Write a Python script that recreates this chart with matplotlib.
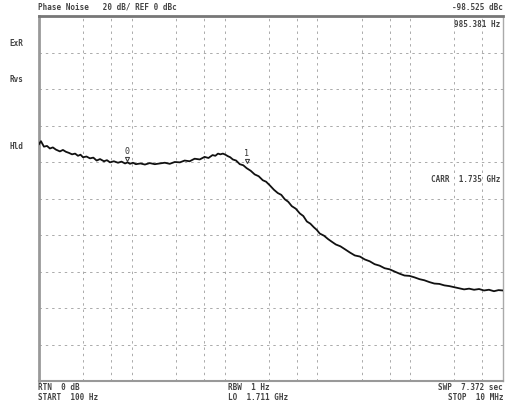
import matplotlib
matplotlib.use("Agg")
import matplotlib.pyplot as plt

# trace: offset frequency (Hz) and level (dBc)
freq_hz = [100, 105, 113, 122, 131, 141, 152, 168, 181, 195, 210, 227, 245, 263,
           280, 298, 325, 354, 385, 418, 455, 501, 540, 582, 640, 710, 775, 846,
           900, 956, 1030, 1106, 1240, 1384, 1560, 1772, 2000, 2268, 2560, 2903,
           3300, 3716, 4200, 4756, 5400, 6088, 6700, 7418, 7950, 8483, 9000, 9590,
           10200, 10840, 11500, 12250, 13300, 14580, 15900, 17300, 19100, 21100,
           23300, 25800, 28000, 30700, 34000, 37400, 40800, 44500, 48500, 53000,
           58500, 64700, 70500, 77000, 84000, 91700, 98500, 106000, 118000, 130000,
           144000, 158000, 177000, 198000, 224000, 253000, 287000, 324000, 366000,
           414000, 468000, 530000, 600000, 678000, 768000, 868000, 982000, 1110000,
           1260000, 1420000, 1610000, 1820000, 2060000, 2330000, 2640000, 2980000,
           3370000, 3810000, 4310000, 4880000, 5520000, 6240000, 7060000, 7990000,
           8950000, 10000000]
level_dbc = [-35.1, -34.3, -35.8, -35.6, -36.3, -36.0, -36.6, -37.1, -36.7, -37.2, -37.5, -37.9, -37.7, -38.3,
             -38.0, -38.7, -38.5, -39.0, -38.8, -39.6, -39.2, -39.8, -39.5, -40.1, -39.8, -40.2, -39.9, -40.4,
             -40.1, -40.5, -40.2, -40.6, -40.4, -40.7, -40.3, -40.6, -40.4, -40.2, -40.5, -40.0,
             -40.1, -39.6, -39.8, -39.1, -39.3, -38.6, -38.9, -38.1, -38.3, -37.7, -37.9, -37.7,
             -38.0, -38.4, -38.7, -39.3, -39.6, -40.6, -40.9, -41.7, -42.4, -43.4,
             -43.9, -45.0, -45.4, -46.4, -47.6, -48.5, -49.0, -50.2, -50.9, -52.1,
             -52.8, -54.1, -54.8, -56.3, -56.9, -57.9, -58.6, -59.6, -60.2, -61.1,
             -61.9, -62.6, -63.1, -63.9, -64.8, -65.6, -65.9, -66.7, -67.2,
             -68.0, -68.4, -69.1, -69.4, -70.0, -70.6, -71.1, -71.2, -71.6,
             -72.1, -72.4, -72.9, -73.3, -73.4, -73.8, -74.0, -74.3,
             -74.6, -74.9, -74.7, -75.0, -74.8, -75.2, -75.0, -75.4,
             -75.1, -75.2]

# vertical graticule lines on the analyzer screen
grid_freqs = [300, 600, 1e3, 3e3, 6e3, 1e4, 3e4, 6e4, 1e5, 3e5, 6e5, 1e6, 3e6, 6e6]
grid_levels = [-10, -20, -30, -40, -50, -60, -70, -80, -90]

# marker positions
marker_freqs = [880, 17400]
marker_levels = [-40.3, -41.0]
marker_names = ["0", "1"]

fig = plt.figure(figsize=(5.05, 4.06), dpi=100)
ax = fig.add_axes([39 / 505, 24 / 406, 464 / 505, 365 / 406])

ax.set_xscale("log")
ax.set_xlim(100, 1e7)
ax.set_ylim(-100, 0)

for f in grid_freqs:
    ax.axvline(f, color="#aaaaaa", lw=0.7, ls=(0, (2.5, 4)), zorder=1)
for lv in grid_levels:
    ax.axhline(lv, color="#aaaaaa", lw=0.7, ls=(0, (2.5, 4)), zorder=1)

ax.plot(freq_hz, level_dbc, color="#111111", lw=1.3, zorder=3)

for f, lv, name in zip(marker_freqs, marker_levels, marker_names):
    ax.annotate(name, (f, lv), xytext=(0, 6), textcoords="offset points",
                ha="center", va="bottom", fontsize=6, family="DejaVu Sans Mono",
                color="#333333", zorder=4)
    ax.plot([f], [lv + 1.2], marker="v", ms=3, mfc="none", mec="#333333", mew=0.7, zorder=4)

ax.set_xticks([])
ax.set_yticks([])
ax.minorticks_off()
ax.spines["top"].set_linewidth(2.0)
ax.spines["top"].set_color("#777777")
ax.spines["left"].set_linewidth(2.0)
ax.spines["left"].set_color("#999999")
ax.spines["bottom"].set_linewidth(1.5)
ax.spines["bottom"].set_color("#999999")
ax.spines["right"].set_linewidth(1.0)
ax.spines["right"].set_color("#aaaaaa")

mono = dict(family="DejaVu Sans Mono", fontsize=5.5, color="#444444", weight="bold")

# header and footer annotations
fig.text(38 / 505, 1 - 7 / 406, "Phase Noise   20 dB/ REF 0 dBc", va="center", ha="left", **mono)
fig.text(503 / 505, 1 - 7 / 406, "-98.525 dBc", va="center", ha="right", **mono)
ax.text(0.995, 0.98, "985.381 Hz", transform=ax.transAxes, va="center", ha="right", **mono)
ax.text(0.995, 0.555, "CARR  1.735 GHz", transform=ax.transAxes, va="center", ha="right", **mono)

fig.text(9 / 505, 1 - 44 / 406, "ExR", va="center", ha="left", **mono)
fig.text(9 / 505, 1 - 80 / 406, "Rvs", va="center", ha="left", **mono)
fig.text(9 / 505, 1 - 147 / 406, "Hld", va="center", ha="left", **mono)

fig.text(38 / 505, 1 - 388 / 406, "RTN  0 dB", va="center", ha="left", **mono)
fig.text(38 / 505, 1 - 398 / 406, "START  100 Hz", va="center", ha="left", **mono)
fig.text(228 / 505, 1 - 388 / 406, "RBW  1 Hz", va="center", ha="left", **mono)
fig.text(228 / 505, 1 - 398 / 406, "LO  1.711 GHz", va="center", ha="left", **mono)
fig.text(503 / 505, 1 - 388 / 406, "SWP  7.372 sec", va="center", ha="right", **mono)
fig.text(503 / 505, 1 - 398 / 406, "STOP  10 MHz", va="center", ha="right", **mono)

fig.savefig("out.png", dpi=100)
